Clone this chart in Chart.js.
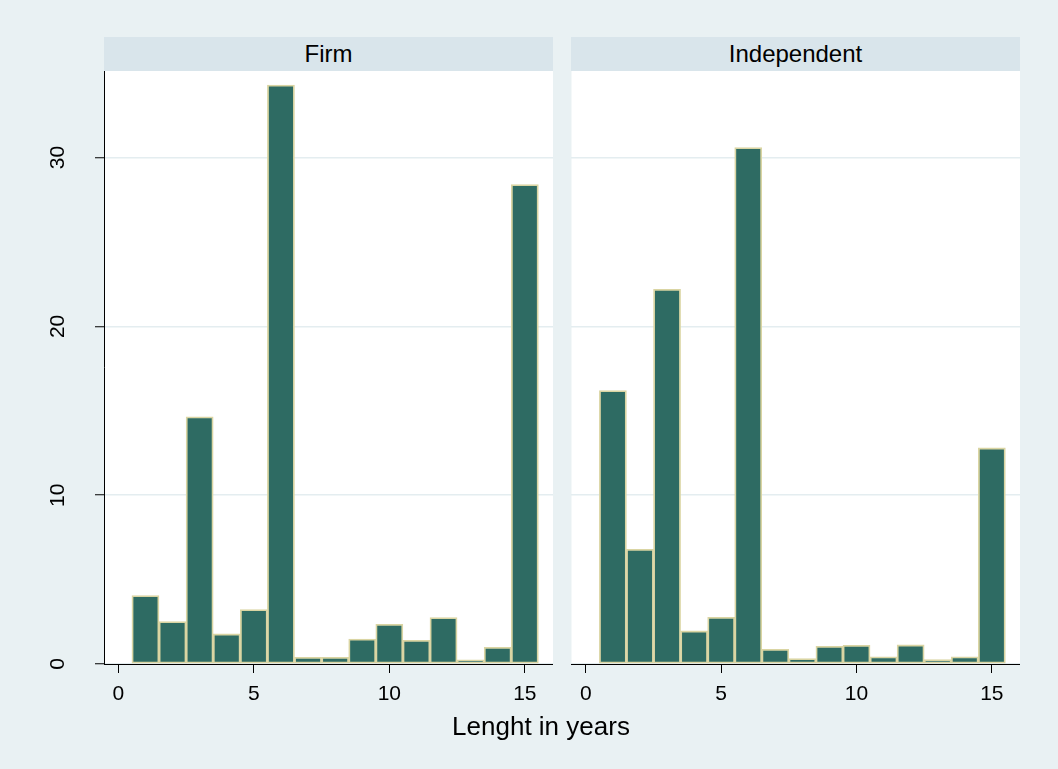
<!DOCTYPE html>
<html>
<head>
<meta charset="utf-8">
<script src="https://cdn.jsdelivr.net/npm/chart.js@4.4.0/dist/chart.umd.min.js"></script>
<style>
html,body{margin:0;padding:0;background:#e9f1f3;}
#wrap{position:relative;width:1058px;height:769px;background:#e9f1f3;overflow:hidden;font-family:"Liberation Sans",Arial,sans-serif;}
.strip{position:absolute;top:37px;height:34px;width:449px;background:#d9e5eb;color:#000;font-size:24px;line-height:34px;text-align:center;}
.plot{position:absolute;top:71px;height:698px;}
#xtitle{position:absolute;left:341px;width:400px;top:711px;text-align:center;font-size:26px;line-height:30px;color:#000;}
</style>
</head>
<body>
<div id="wrap">
  <div class="strip" style="left:104px" id="s1"></div>
  <div class="strip" style="left:571px" id="s2"></div>
  <div class="plot" style="left:0px;width:553px"><canvas id="c1" width="553" height="698"></canvas></div>
  <div class="plot" style="left:571px;width:449px"><canvas id="c2" width="449" height="698"></canvas></div>
  <div id="xtitle"></div>
</div>
<script>
// ---- data ----
const panels = ["Firm", "Independent"];
const binCenters = [1, 2, 3, 4, 5, 6, 7, 8, 9, 10, 11, 12, 13, 14, 15];
const firmPercent = [4.05, 2.51, 14.65, 1.78, 3.22, 34.3, 0.40, 0.40, 1.48, 2.35, 1.40, 2.75, 0.24, 0.99, 28.4];
const indepPercent = [16.2, 6.8, 22.2, 1.96, 2.77, 30.6, 0.87, 0.32, 1.05, 1.11, 0.43, 1.13, 0.26, 0.43, 12.8];
const xTicks = [0, 5, 10, 15];
const yTicks = [0, 10, 20, 30];
const xTitle = "Lenght in years";

document.getElementById('s1').textContent = panels[0];
document.getElementById('s2').textContent = panels[1];
document.getElementById('xtitle').textContent = xTitle;

const FONT = '"Liberation Sans", Arial, sans-serif';
const BAR_FILL = '#2e6b63';
const BAR_EDGE = '#dad5a3';
const GRID = '#e4edf0';

const plotBgPlugin = {
  id: 'plotBg',
  beforeDraw(chart) {
    const a = chart.chartArea;
    const ctx = chart.ctx;
    ctx.save();
    ctx.fillStyle = '#ffffff';
    ctx.fillRect(a.left, a.top, a.right - a.left, a.bottom - a.top);
    ctx.restore();
  }
};

const yLabelPlugin = {
  id: 'yLabels',
  afterDraw(chart, args, opts) {
    if (!opts.show) return;
    const y = chart.scales.y;
    const ctx = chart.ctx;
    ctx.save();
    ctx.fillStyle = '#000';
    ctx.font = '21px ' + FONT;
    ctx.textAlign = 'center';
    ctx.textBaseline = 'middle';
    yTicks.forEach(v => {
      const py = y.getPixelForValue(v);
      ctx.save();
      ctx.translate(58, py);
      ctx.rotate(-Math.PI / 2);
      ctx.fillText(String(v), 0, 0);
      ctx.restore();
    });
    ctx.restore();
  }
};

function makeChart(id, values, showY) {
  const data = binCenters.map((x, i) => ({ x: x, y: values[i] }));
  return new Chart(document.getElementById(id), {
    type: 'bar',
    data: {
      datasets: [{
        data: data,
        backgroundColor: BAR_FILL,
        borderColor: BAR_EDGE,
        borderWidth: 1.8,
        barPercentage: 1,
        categoryPercentage: 1,
        borderSkipped: false
      }]
    },
    plugins: [plotBgPlugin, yLabelPlugin],
    options: {
      responsive: false,
      animation: false,
      layout: { padding: 0 },
      plugins: {
        legend: { display: false },
        tooltip: { enabled: false },
        yLabels: { show: showY }
      },
      scales: {
        x: {
          type: 'linear',
          min: -0.53,
          max: 16.04,
          offset: false,
          afterBuildTicks: s => { s.ticks = xTicks.map(v => ({ value: v })); },
          afterFit: s => { s.height = 105; },
          grid: { offset: false, drawOnChartArea: false, drawTicks: true, tickLength: 9, tickColor: '#000', tickWidth: 1 },
          border: { display: true, color: '#000', width: 1 },
          ticks: {
            color: '#000',
            font: { size: 21, family: FONT },
            padding: 9,
            maxRotation: 0,
            autoSkip: false
          }
        },
        y: {
          type: 'linear',
          min: 0,
          max: 35.13,
          afterBuildTicks: s => { s.ticks = yTicks.map(v => ({ value: v })); },
          afterFit: s => { s.width = showY ? 104 : 0; },
          grid: {
            color: GRID,
            lineWidth: 1.5,
            drawTicks: showY,
            tickLength: 9,
            tickColor: '#000',
            tickWidth: 1
          },
          border: { display: showY, color: '#000', width: 1 },
          ticks: { display: false }
        }
      }
    }
  });
}

makeChart('c1', firmPercent, true);
makeChart('c2', indepPercent, false);
</script>
</body>
</html>
